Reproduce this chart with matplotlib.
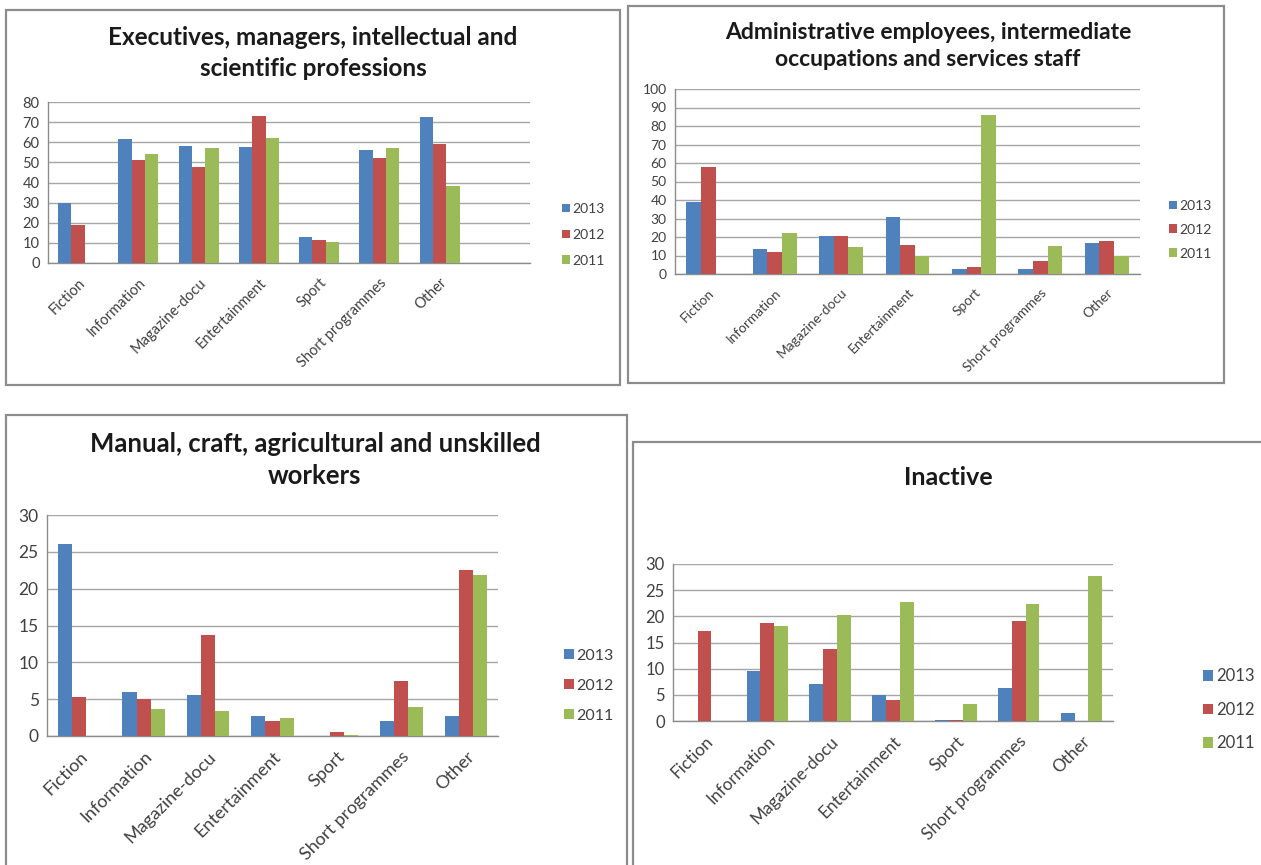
import matplotlib
matplotlib.use("Agg")
import matplotlib.pyplot as plt
import numpy as np
from matplotlib.patches import Rectangle, Patch

plt.rcParams["font.family"] = ["Lato", "DejaVu Sans"]

categories = ["Fiction", "Information", "Magazine-docu", "Entertainment",
              "Sport", "Short programmes", "Other"]
years = ["2013", "2012", "2011"]

exec_2013 = [30, 61.5, 58, 57.5, 13, 56, 72.5]
exec_2012 = [19, 51, 47.5, 73, 11.5, 52, 59]
exec_2011 = [0, 54, 57, 62, 10.5, 57, 38.5]

admin_2013 = [39, 13.5, 20.5, 31, 2.5, 2.5, 16.5]
admin_2012 = [58, 12, 20.5, 15.5, 4, 7, 18]
admin_2011 = [0, 22, 14.5, 9.5, 86, 15, 9.5]

manual_2013 = [26, 6, 5.6, 2.7, 0, 2, 2.7]
manual_2012 = [5.3, 5, 13.7, 2, 0.6, 7.4, 22.5]
manual_2011 = [0, 3.6, 3.4, 2.4, 0.1, 3.9, 21.8]

inactive_2013 = [0, 9.5, 7.1, 5, 0.1, 6.3, 1.6]
inactive_2012 = [17.2, 18.7, 13.8, 4, 0.1, 19.1, 0]
inactive_2011 = [0, 18.2, 20.3, 22.8, 3.3, 22.4, 27.8]

colors = ["#4F81BD", "#C0504D", "#9BBB59"]

W, H = 1261, 865
fig = plt.figure(figsize=(W / 100, H / 100), dpi=100)


def px_rect(x0, y0, x1, y1):
    # pixel box (top-left origin) -> figure fraction [left, bottom, width, height]
    return [x0 / W, 1 - y1 / H, (x1 - x0) / W, (y1 - y0) / H]


def panel(series, title, frame, plot_box, title_xy, n_slots, ymax, ystep,
          title_size, ytick_size, xtick_size, leg_xy, leg_size, leg_space):
    fx0, fy0, fx1, fy1 = frame
    fig.patches.append(Rectangle((fx0 / W, 1 - fy1 / H), (fx1 - fx0) / W,
                                 (fy1 - fy0) / H, transform=fig.transFigure,
                                 fill=False, edgecolor="#8c8c8c", lw=1.6))
    ax = fig.add_axes(px_rect(*plot_box))
    x = np.arange(len(categories))
    bw = 0.22
    for i, vals in enumerate(series):
        ax.bar(x + (i - 1) * bw, vals, width=bw, color=colors[i],
               edgecolor="none", zorder=3)
    ax.set_xlim(-0.5, n_slots - 0.5)
    ax.set_ylim(0, ymax)
    ax.set_yticks(np.arange(0, ymax + 1, ystep))
    ax.yaxis.grid(True, color="#a6a6a6", lw=1.0, zorder=0)
    ax.set_xticks(x)
    ax.set_xticklabels(categories, rotation=45, ha="right",
                       rotation_mode="anchor", fontsize=xtick_size,
                       color="#404040")
    ax.tick_params(axis="y", labelsize=ytick_size, labelcolor="#404040",
                   length=0, pad=6)
    ax.tick_params(axis="x", length=0, pad=9)
    for side in ["top", "right"]:
        ax.spines[side].set_visible(False)
    for side in ["left", "bottom"]:
        ax.spines[side].set_color("#8c8c8c")
        ax.spines[side].set_linewidth(1.0)
    fig.text(title_xy[0] / W, 1 - title_xy[1] / H, title, ha="center",
             va="center", fontsize=title_size, fontweight="bold",
             color="#1a1a1a", linespacing=1.38)
    handles = [Patch(facecolor=c, edgecolor="none") for c in colors]
    ax.legend(handles, years, loc="upper left",
              bbox_to_anchor=(leg_xy[0] / W, 1 - leg_xy[1] / H),
              bbox_transform=fig.transFigure, frameon=False,
              fontsize=leg_size, handlelength=0.6, handleheight=0.6,
              handletextpad=0.15, labelspacing=leg_space, borderpad=0,
              labelcolor="#404040")
    return ax


panel([exec_2013, exec_2012, exec_2011],
      "Executives, managers, intellectual and\nscientific professions",
      (6, 10, 620, 385), (48, 102, 530, 263), (313, 53), 8, 80, 10,
      17.5, 10.5, 10.5, (555, 196), 10, 1.0)

panel([admin_2013, admin_2012, admin_2011],
      "Administrative employees, intermediate\noccupations and services staff",
      (628, 6, 1224, 383), (675, 89, 1140, 274), (928, 46), 7, 100, 10,
      16.5, 10, 9.8, (1162, 193), 10, 0.85)

panel([manual_2013, manual_2012, manual_2011],
      "Manual, craft, agricultural and unskilled\nworkers",
      (6, 415, 627, 875), (47, 515, 498, 736), (315, 460), 7, 30, 5,
      18.5, 12.5, 13, (556, 641), 11.5, 1.0)

panel([inactive_2013, inactive_2012, inactive_2011],
      "Inactive",
      (633, 442, 1270, 875), (673, 564, 1113, 721), (948, 478), 7, 30, 5,
      18, 12, 12.3, (1195, 660), 12, 1.05)

fig.savefig("out.png", dpi=100)
